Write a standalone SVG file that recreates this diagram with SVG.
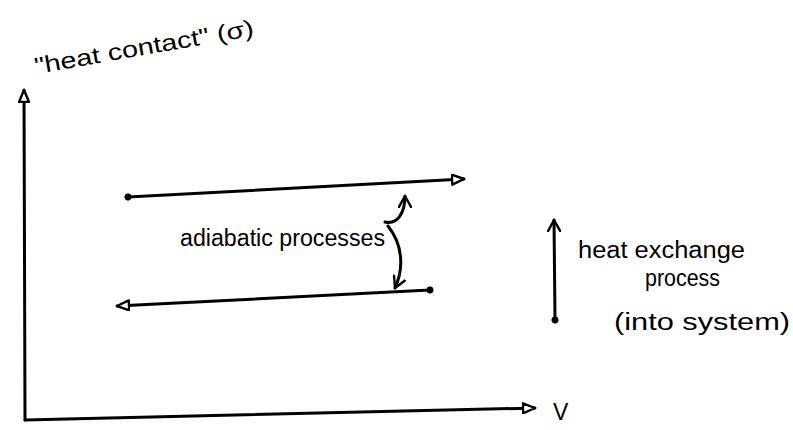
<svg xmlns="http://www.w3.org/2000/svg" width="793" height="430" viewBox="0 0 793 430">
<style>
.ln{fill:none;stroke:#000;stroke-width:3;stroke-linecap:round;stroke-linejoin:round}
.t{font-family:"Liberation Sans",Arial,sans-serif;font-size:23px;fill:#000}
</style>
<defs>
<marker id="open" viewBox="0 0 14 12" refX="13" refY="6" markerWidth="14" markerHeight="12" markerUnits="userSpaceOnUse" orient="auto">
<path d="M1,1 L13,6 L1,11 Z" fill="#fff" stroke="#000" stroke-width="2.4" stroke-linejoin="round"/>
</marker>
<marker id="dot" viewBox="0 0 10 10" refX="5" refY="5" markerWidth="9" markerHeight="9" markerUnits="userSpaceOnUse">
<circle cx="5" cy="5" r="3.5" fill="#000" stroke="#000" stroke-width="1"/>
</marker>
<marker id="barb" viewBox="0 0 14 14" refX="12" refY="7" markerWidth="14" markerHeight="14" markerUnits="userSpaceOnUse" orient="auto">
<path d="M1,1 L12,7 L1,13" fill="none" stroke="#000" stroke-width="2.4" stroke-linecap="round" stroke-linejoin="round"/>
</marker>
</defs>
<g id="connectors">
<path id="y-axis" class="ln" d="M25,420 L24,90" marker-end="url(#open)"/>
<path id="x-axis" class="ln" d="M25,420 L535,408" marker-end="url(#open)"/>
<path id="top-process" class="ln" d="M128,197 L464,179" marker-start="url(#dot)" marker-end="url(#open)"/>
<path id="bottom-process" class="ln" d="M430,290 L117,306" marker-start="url(#dot)" marker-end="url(#open)"/>
<path id="heat-exchange" class="ln" d="M555,320 L554,220" marker-start="url(#dot)" marker-end="url(#barb)"/>
<path id="adiabatic-up" class="ln" d="M385,222 C398,225 405,212 405,196" marker-end="url(#barb)"/>
<path id="adiabatic-down" class="ln" d="M388,226 C403,245 404,268 395,288" marker-end="url(#barb)"/>
</g>
<g id="y-label">
<text class="t" font-size="25" textLength="222" lengthAdjust="spacingAndGlyphs" transform="translate(36,74) rotate(-10)">"heat contact" (σ)</text>
</g>
<g id="x-label">
<text class="t" x="553" y="420" font-size="28">V</text>
</g>
<g id="adiabatic-label">
<text class="t" x="180" y="246" textLength="205" lengthAdjust="spacingAndGlyphs">adiabatic processes</text>
</g>
<g id="heat-exchange-label">
<text class="t" x="578" y="258" textLength="167" lengthAdjust="spacingAndGlyphs">heat exchange</text>
<text class="t" x="645" y="286" textLength="75" lengthAdjust="spacingAndGlyphs">process</text>
<text class="t" x="614" y="330" font-size="25" textLength="176" lengthAdjust="spacingAndGlyphs">(into system)</text>
</g>
</svg>
